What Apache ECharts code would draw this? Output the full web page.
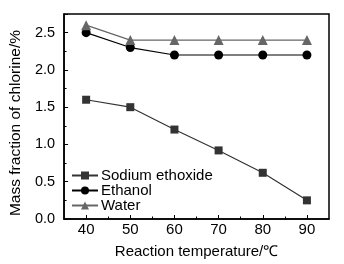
<!DOCTYPE html>
<html><head><meta charset="utf-8">
<script src="https://cdn.jsdelivr.net/npm/echarts@6/dist/echarts.min.js"></script>
<style>html,body{margin:0;padding:0;background:#fff}#c{width:344px;height:264px}</style>
</head><body><div id="c"></div>
<script>
const temperatures = [40, 50, 60, 70, 80, 90];
const minorTemperatureTicks = [45, 55, 65, 75, 85];
const sodiumEthoxide = [1.60, 1.50, 1.20, 0.92, 0.62, 0.25];
const ethanol = [2.50, 2.30, 2.20, 2.20, 2.20, 2.20];
const water = [2.60, 2.40, 2.40, 2.40, 2.40, 2.40];
const seriesNames = ['Sodium ethoxide', 'Ethanol', 'Water'];

const font = 'Liberation Sans, Arial, sans-serif';
const chart = echarts.init(document.getElementById('c'));
const pair = arr => temperatures.map((t, i) => [t, arr[i]]);
chart.setOption({
  animation: false,
  grid: {left: 61, right: 15, top: 14, bottom: 45, show: true, borderColor: '#000', borderWidth: 1.5},
  legend: {
    orient: 'vertical', left: 66, top: 163, itemWidth: 26, itemHeight: 10, itemGap: 0,
    data: seriesNames,
    textStyle: {fontFamily: font, fontSize: 15, color: '#000', lineHeight: 14.5, padding: [0, 0, 0, -2]}
  },
  xAxis: [{
    type: 'value', min: 35, max: 95, interval: 5,
    name: 'Reaction temperature/℃', nameLocation: 'middle', nameGap: 25,
    nameTextStyle: {fontFamily: font, fontSize: 15, color: '#000'},
    axisLine: {lineStyle: {color: '#000', width: 1.5}},
    axisTick: {inside: true, length: 4, customValues: temperatures, lineStyle: {color: '#000'}},
    splitLine: {show: false},
    axisLabel: {fontFamily: font, fontSize: 15, color: '#000', margin: 3, customValues: temperatures}
  }, {
    type: 'value', min: 35, max: 95, interval: 5, position: 'bottom',
    axisLine: {show: false},
    axisTick: {inside: true, length: 2.5, customValues: minorTemperatureTicks, lineStyle: {color: '#000'}},
    axisLabel: {show: false}, splitLine: {show: false}
  }],
  yAxis: {
    type: 'value', min: 0, max: 2.75, interval: 0.5,
    name: 'Mass fraction of chlorine/%', nameLocation: 'middle', nameGap: 30,
    nameTextStyle: {fontFamily: font, fontSize: 15.5, color: '#000', padding: [0, 13, 0, 0]},
    axisLine: {lineStyle: {color: '#000', width: 1.5}},
    axisTick: {inside: true, length: 4, lineStyle: {color: '#000'}},
    minorTick: {show: true, splitNumber: 2, length: 2.5, lineStyle: {color: '#000'}},
    splitLine: {show: false},
    axisLabel: {fontFamily: font, fontSize: 14.5, color: '#000', margin: 9, showMaxLabel: false,
      formatter: v => (Math.abs(v * 2 - Math.round(v * 2)) < 1e-6) ? v.toFixed(1) : ''}
  },
  series: [
    {name: seriesNames[0], type: 'line', data: pair(sodiumEthoxide), symbol: 'rect', symbolSize: 8,
      itemStyle: {color: '#333'}, lineStyle: {color: '#333', width: 1.2}},
    {name: seriesNames[1], type: 'line', data: pair(ethanol), symbol: 'circle', symbolSize: 9,
      itemStyle: {color: '#000'}, lineStyle: {color: '#000', width: 1.2}},
    {name: seriesNames[2], type: 'line', data: pair(water), symbol: 'triangle', symbolSize: 10,
      itemStyle: {color: '#666'}, lineStyle: {color: '#666', width: 1.2}}
  ]
});
</script></body></html>
